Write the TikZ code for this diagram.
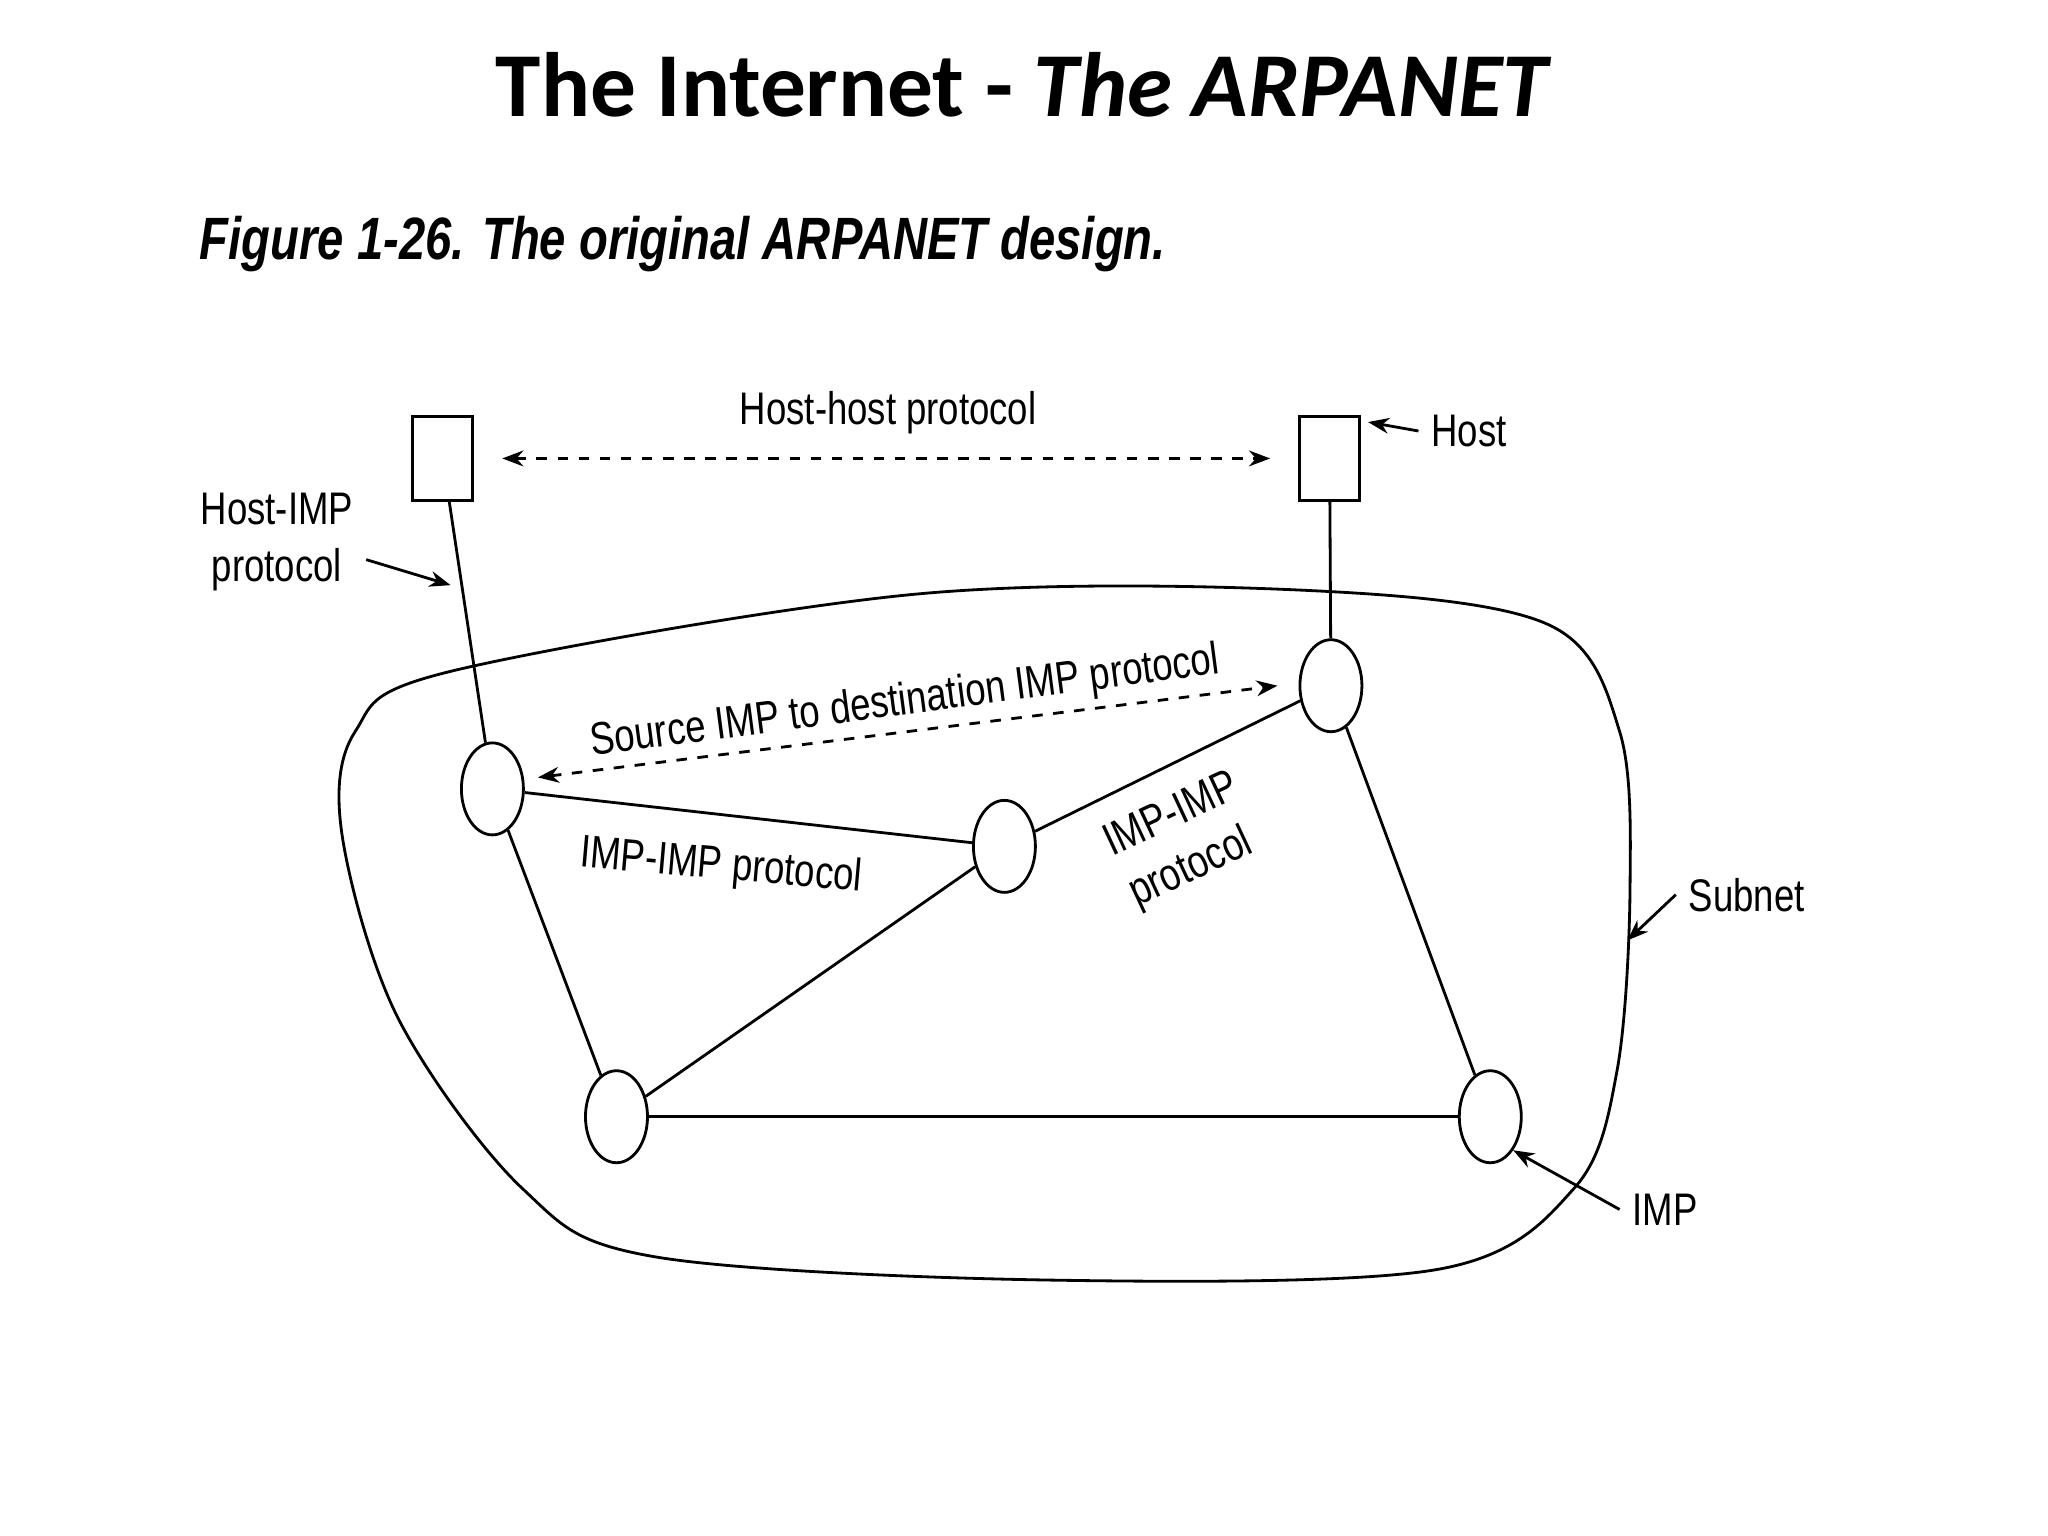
\documentclass[tikz,border=0pt]{standalone}
\usepackage{fontspec}
\usepackage{graphicx}
\setmainfont{Liberation Sans}
\newfontfamily\titlefont{Carlito}
\usetikzlibrary{arrows.meta,shapes.geometric}
\newcommand{\nar}[1]{\scalebox{0.8}[1]{#1}}
\tikzset{
  imp/.style={draw,thick,ellipse,minimum width=0.62cm,minimum height=0.92cm,inner sep=0pt},
  host/.style={draw,thick,minimum width=0.6cm,minimum height=0.84cm,inner sep=0pt},
  lbl/.style={font=\fontsize{13}{16}\selectfont,align=center},
  ptr/.style={-{Stealth[length=6pt]}},
  dsh/.style={dashed,{Stealth[length=6pt]}-{Stealth[length=6pt]}}
}
\begin{document}
\begin{tikzpicture}[x=0.01306cm,y=-0.01306cm,thick]
  \useasboundingbox (0,0) rectangle (1568,1176);
  % headings
  \node[font=\titlefont\bfseries\fontsize{26}{30}\selectfont] (title) at (784,65)
    {The Internet - \textit{The ARPANET}};
  \node[anchor=west,font=\bfseries\itshape\fontsize{17}{20}\selectfont] (cap) at (143,187)
    {\scalebox{0.79}[1]{Figure 1-26. The original ARPANET design.}};
  % subnet outline
  \draw plot[smooth cycle,tension=0.55] coordinates {(345,514) (700,455) (1000,452)
    (1185,478) (1240,560) (1248,680) (1238,820) (1205,910) (1100,972) (800,980) (500,962)
    (400,910) (305,780) (262,640) (272,560)};
  % hosts
  \node[host] (h1) at (339,351) {};
  \node[host] (h2) at (1018,351) {};
  % IMPs
  \node[imp] (a) at (377,604) {};
  \node[imp] (b) at (1019,525) {};
  \node[imp] (c) at (769,648) {};
  \node[imp] (d) at (472,855) {};
  \node[imp] (e) at (1141,855) {};
  % links
  \draw (h1) -- (a);
  \draw (h2) -- (b);
  \draw (a) -- (c);
  \draw (c) -- (b);
  \draw (a) -- (d);
  \draw (c) -- (d);
  \draw (d) -- (e);
  \draw (b) -- (e);
  % protocols
  \draw[dsh] ([xshift=8]h1.east) -- ([xshift=-8]h2.west);
  \node[lbl] (hh) at (680,316) {\nar{Host-host protocol}};
  \draw[dsh] ([xshift=4]a.20) -- ([xshift=-6]b.west);
  \node[lbl,rotate=7.5] (src) at (693,538) {\nar{Source IMP to destination IMP protocol}};
  \node[lbl,rotate=-5] (ii1) at (552,664) {\nar{IMP-IMP protocol}};
  \node[lbl,rotate=25] (ii2a) at (896,622) {\nar{IMP-IMP}};
  \node[lbl,rotate=25] (ii2b) at (912,665) {\nar{protocol}};
  % pointers
  \node[lbl] (hi) at (212,415) {\nar{Host-IMP}\\\nar{protocol}};
  \coordinate (hit) at (345,448);
  \draw[ptr] ([yshift=-5]hi.east) -- (hit);
  \node[lbl,anchor=west] (hostl) at (1086,330) {\nar{Host}};
  \draw[ptr] (hostl.west) -- ([xshift=2,yshift=-2]h2.north east);
  \node[lbl,anchor=west] (subl) at (1283,685) {\nar{Subnet}};
  \coordinate (subt) at (1246,720);
  \draw[ptr] (subl.west) -- (subt);
  \node[lbl,anchor=west] (impl) at (1240,926) {\nar{IMP}};
  \draw[ptr] (impl.west) -- (e.south east);
\end{tikzpicture}
\end{document}
